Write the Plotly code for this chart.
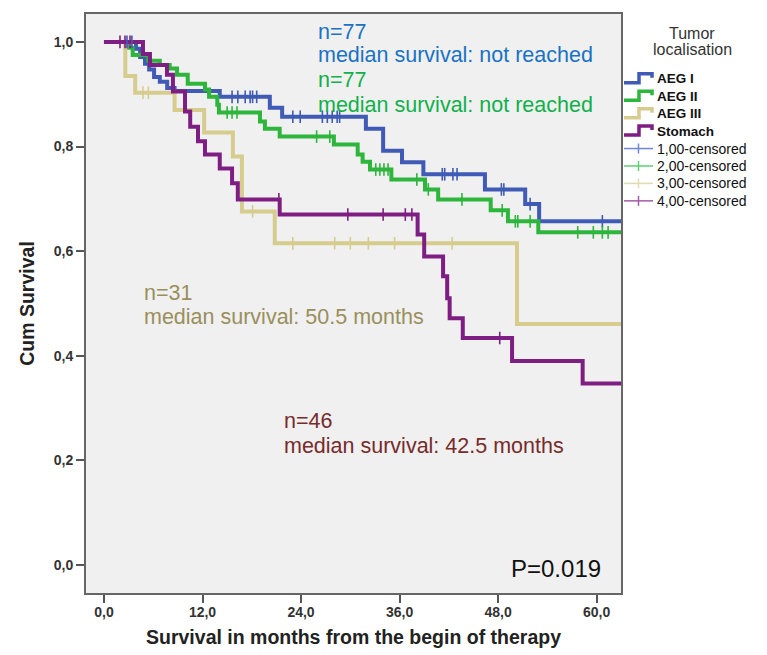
import bisect
import plotly.graph_objects as go

# ---------------- data (months, cumulative survival) ----------------
aeg1_t = [0, 3.9, 4.4, 5.0, 5.5, 6.1, 6.8, 7.7, 8.6, 14.1, 20.2, 21.7, 31.9, 34.0, 36.3, 38.9, 46.4, 51.3, 53.0, 63.0]
aeg1_s = [1.0, 0.987, 0.971, 0.958, 0.947, 0.933, 0.924, 0.912, 0.906, 0.895, 0.874, 0.857, 0.834, 0.792, 0.770, 0.747, 0.718, 0.690, 0.657, 0.657]
aeg1_c = [2.8, 3.4, 15.6, 16.3, 17.2, 17.8, 18.1, 18.6, 23.0, 23.9, 26.6, 27.2, 27.8, 28.4, 28.7,
          41.2, 41.5, 42.5, 43.0, 48.4, 48.7, 51.9, 60.7]

aeg2_t = [0, 2.8, 3.5, 5.4, 6.8, 8.0, 8.9, 10.2, 12.3, 12.8, 13.8, 14.0, 19.0, 19.6, 21.4, 28.0, 30.9,
          31.5, 32.4, 35.0, 39.1, 40.7, 47.1, 49.2, 52.9, 63.0]
aeg2_s = [1.0, 0.989, 0.975, 0.964, 0.956, 0.949, 0.937, 0.920, 0.909, 0.895, 0.880, 0.865, 0.848, 0.834,
          0.819, 0.804, 0.785, 0.771, 0.756, 0.737, 0.718, 0.699, 0.678, 0.657, 0.636, 0.636]
aeg2_c = [15.0, 15.6, 16.2, 25.9, 27.5, 33.1, 33.6, 34.1, 34.6, 38.1, 39.5, 43.6, 48.5, 50.1, 50.4, 51.9,
          57.7, 59.6, 60.7, 61.4]

aeg3_t = [0, 2.6, 3.8, 8.6, 12.2, 15.7, 16.8, 20.8, 50.3, 63.0]
aeg3_s = [1.0, 0.935, 0.903, 0.870, 0.827, 0.781, 0.676, 0.615, 0.461, 0.461]
aeg3_c = [4.75, 5.4, 18.1, 23.0, 28.1, 30.0, 32.2, 35.4, 42.4]

stom_t = [0, 4.75, 5.6, 7.67, 8.4, 9.87, 10.5, 11.45, 12.3, 14.1, 15.6, 16.3, 21.4, 38.2, 39.0, 41.3,
          41.8, 42.1, 43.7, 49.7, 58.3, 63.0]
stom_s = [1.0, 0.977, 0.956, 0.937, 0.905, 0.867, 0.838, 0.810, 0.785, 0.758, 0.730, 0.699, 0.670, 0.632,
          0.590, 0.552, 0.510, 0.472, 0.434, 0.390, 0.347, 0.347]
stom_c = [1.95, 2.56, 3.17, 21.3, 29.7, 34.0, 36.7, 37.5, 48.2]

group_names = ["AEG I", "AEG II", "AEG III", "Stomach"]
censor_names = ["1,00-censored", "2,00-censored", "3,00-censored", "4,00-censored"]
legend_title = ["Tumor", "localisation"]

x_ticks = [0, 12, 24, 36, 48, 60]
x_tick_labels = ["0,0", "12,0", "24,0", "36,0", "48,0", "60,0"]
y_ticks = [0, 0.2, 0.4, 0.6, 0.8, 1.0]
y_tick_labels = ["0,0", "0,2", "0,4", "0,6", "0,8", "1,0"]

# ---------------- styling ----------------
line_colors = ["#3f5bb5", "#2db53c", "#d6cc8e", "#7e1e82"]
cens_colors = ["#7088d4", "#5ccf72", "#e2dab0", "#a45aaa"]
FONT = "Liberation Sans, Arial, sans-serif"

curves = [(aeg1_t, aeg1_s, aeg1_c), (aeg2_t, aeg2_s, aeg2_c),
          (aeg3_t, aeg3_s, aeg3_c), (stom_t, stom_s, stom_c)]


def surv_at(t_list, s_list, t):
    i = bisect.bisect_right(t_list, t) - 1
    return s_list[max(i, 0)]


fig = go.Figure()

for (t, s, c), name, col in zip(curves, group_names, line_colors):
    fig.add_trace(go.Scatter(
        x=t, y=s, mode="lines", line=dict(shape="hv", color=col, width=4),
        name=name, hoverinfo="skip"))

for (t, s, c), name, col in zip(curves, censor_names, line_colors):
    fig.add_trace(go.Scatter(
        x=c, y=[surv_at(t, s, v) for v in c], mode="markers", name=name,
        marker=dict(symbol="line-ns", size=9, line=dict(color=col, width=1.6)),
        hoverinfo="skip"))

# ---------------- page geometry (window pixels; page body has an 8px margin) ----------------
OFF = 8
X0, X1, Y0, Y1 = 86, 621, 12, 593
FIG_W, FIG_H = 767 - OFF, 655 - OFF


def px(xp):
    return (xp - X0) / (X1 - X0)


def py(yp):
    return (Y1 - yp) / (Y1 - Y0)


texts = [
    ("n=77", 316, 30, "#1a72c4"),
    ("median survival: not reached", 316, 53, "#1a72c4"),
    ("n=77", 316, 78, "#10b04a"),
    ("median survival: not reached", 316, 103, "#10b04a"),
    ("n=31", 142, 292, "#9a8f5c"),
    ("median survival: 50.5 months", 142, 316, "#9a8f5c"),
    ("n=46", 282, 420, "#772b2b"),
    ("median survival: 42.5 months", 282, 445, "#772b2b"),
]
for txt, xp, yp, col in texts:
    fig.add_annotation(text=txt, xref="paper", yref="paper", x=px(xp), y=py(yp),
                       xanchor="left", yanchor="middle", showarrow=False,
                       font=dict(family=FONT, size=21.5, color=col))

fig.add_annotation(text="P=0.019", xref="paper", yref="paper", x=px(603), y=py(568),
                   xanchor="right", yanchor="middle", showarrow=False,
                   font=dict(family=FONT, size=24, color="#111111"))

# ---------------- hand-drawn legend (SPSS style, tighter spacing than plotly's) ----------------
for i, line in enumerate(legend_title):
    fig.add_annotation(text=line, xref="paper", yref="paper", x=px(692), y=py(32 + 16 * i),
                       xanchor="center", yanchor="middle", showarrow=False,
                       font=dict(family=FONT, size=16, color="#333333"))

item_y = [77, 94.5, 112, 129.5, 147, 164.5, 182, 199.5]
for i, (name, col) in enumerate(zip(group_names, line_colors)):
    yc = item_y[i]
    path = (f"M {px(624)},{py(yc + 4)} L {px(639)},{py(yc + 4)} L {px(639)},{py(yc - 5)} "
            f"L {px(652)},{py(yc - 5)} L {px(652)},{py(yc - 1)}")
    fig.add_shape(type="path", xref="paper", yref="paper", path=path,
                  line=dict(color=col, width=3.5))
    fig.add_annotation(text=f"<b>{name}</b>", xref="paper", yref="paper", x=px(655), y=py(yc),
                       xanchor="left", yanchor="middle", showarrow=False,
                       font=dict(family=FONT, size=13.5, color="#111111"))
for j, (name, col) in enumerate(zip(censor_names, cens_colors)):
    yc = item_y[4 + j]
    fig.add_shape(type="line", xref="paper", yref="paper", x0=px(624), x1=px(653),
                  y0=py(yc), y1=py(yc), line=dict(color=col, width=1.5))
    fig.add_shape(type="line", xref="paper", yref="paper", x0=px(638.5), x1=px(638.5),
                  y0=py(yc - 5), y1=py(yc + 5), line=dict(color=col, width=1.5))
    fig.add_annotation(text=name, xref="paper", yref="paper", x=px(655), y=py(yc),
                       xanchor="left", yanchor="middle", showarrow=False,
                       font=dict(family=FONT, size=14, color="#111111"))

fig.update_layout(
    width=FIG_W, height=FIG_H, showlegend=False,
    margin=dict(l=X0 - OFF, r=FIG_W - (X1 - OFF), t=Y0 - OFF, b=FIG_H - (Y1 - OFF)),
    paper_bgcolor="white", plot_bgcolor="#f0f0f0",
    font=dict(family=FONT, color="#222222"),
)

fig.update_xaxes(
    range=[-2.19, 62.97], tickvals=x_ticks, ticktext=x_tick_labels,
    showgrid=False, zeroline=False, showline=True, mirror=True,
    linecolor="#666666", linewidth=2, ticks="outside", ticklen=8, tickwidth=2, tickcolor="#555555",
    ticklabelstandoff=-3,
    tickfont=dict(family=FONT, size=14, color="#333333", weight="bold"),
    title=dict(text="<b>Survival in months from the begin of therapy</b>", standoff=12,
               font=dict(family=FONT, size=19.5, color="#222222")),
)
fig.update_yaxes(
    range=[-0.0533, 1.0533], tickvals=y_ticks, ticktext=y_tick_labels,
    showgrid=False, zeroline=False, showline=True, mirror=True,
    linecolor="#666666", linewidth=2, ticks="outside", ticklen=8, tickwidth=2, tickcolor="#555555",
    tickfont=dict(family=FONT, size=14, color="#333333", weight="bold"),
    title=dict(text="<b>Cum Survival</b>", standoff=14,
               font=dict(family=FONT, size=19.5, color="#222222")),
)

fig.write_html("out.html")
